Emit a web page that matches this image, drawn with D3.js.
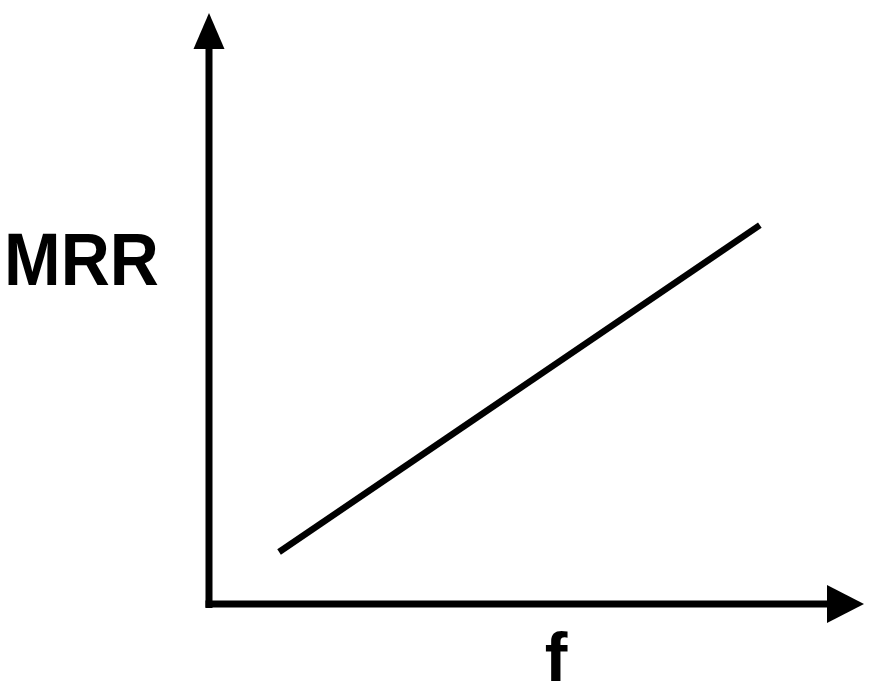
<!DOCTYPE html>
<html>
<head>
<meta charset="utf-8">
<script src="https://cdn.jsdelivr.net/npm/d3@7"></script>
<style>
  html, body { margin: 0; padding: 0; background: #fff; }
  svg { display: block; }
</style>
</head>
<body>
<svg id="chart" width="871" height="696"></svg>
<script>
// MRR rises linearly with f
const fValues = [1.07, 8.41];
const mrrValues = [0.88, 6.41];
const xLabel = "f";
const yLabel = "MRR";

const svg = d3.select("#chart");
const x = d3.scaleLinear().domain([0, 10]).range([209, 864]);
const y = d3.scaleLinear().domain([0, 10]).range([604, 13]);

const ink = "#000";

// axes with arrowheads
const x0 = x(0), y0 = y(0);
svg.append("line")
  .attr("x1", x0).attr("y1", y0 + 4)
  .attr("x2", x0).attr("y2", y(10) + 34)
  .attr("stroke", ink).attr("stroke-width", 7);
svg.append("line")
  .attr("x1", x0 - 3.5).attr("y1", y0)
  .attr("x2", x(10) - 36).attr("y2", y0)
  .attr("stroke", ink).attr("stroke-width", 7);

svg.append("path")
  .attr("d", `M${x0},${y(10)} L${x0 + 15.5},${y(10) + 36} L${x0 - 15.5},${y(10) + 36} Z`)
  .attr("fill", ink);
svg.append("path")
  .attr("d", `M${x(10)},${y0} L${x(10) - 37},${y0 - 19} L${x(10) - 37},${y0 + 19} Z`)
  .attr("fill", ink);

// trend line
const pts = fValues.map((f, i) => [f, mrrValues[i]]);
svg.append("path")
  .datum(pts)
  .attr("d", d3.line().x(d => x(d[0])).y(d => y(d[1])))
  .attr("fill", "none")
  .attr("stroke", ink)
  .attr("stroke-width", 6.5);

// labels
svg.append("text")
  .attr("transform", "translate(4,285) scale(1,1.1)")
  .attr("font-family", "Liberation Sans, Arial, sans-serif")
  .attr("font-weight", "bold")
  .attr("font-size", 68)
  .attr("fill", ink)
  .text(yLabel);

svg.append("text")
  .attr("x", 556)
  .attr("y", 681)
  .attr("text-anchor", "middle")
  .attr("font-family", "Liberation Sans, Arial, sans-serif")
  .attr("font-weight", "bold")
  .attr("font-size", 68)
  .attr("fill", ink)
  .text(xLabel);
</script>
</body>
</html>
